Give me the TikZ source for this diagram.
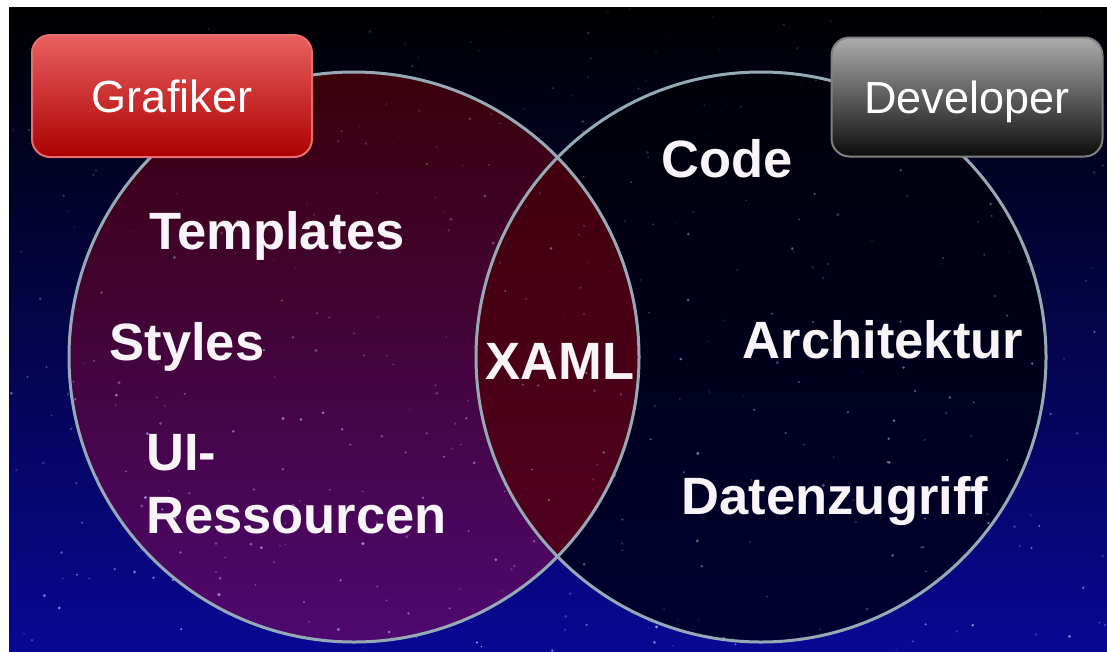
\documentclass[tikz,border=0pt]{standalone}
\usepackage{fontspec}
\setmainfont{Liberation Sans}
\usetikzlibrary{positioning}

\definecolor{bgmid}{RGB}{0,0,36}
\definecolor{bgbot}{RGB}{8,8,148}
\definecolor{ltop}{RGB}{58,0,10}
\definecolor{lbot}{RGB}{78,8,112}
\definecolor{rtop}{RGB}{0,0,8}
\definecolor{rbot}{RGB}{0,0,48}
\definecolor{xtop}{RGB}{62,0,10}
\definecolor{xbot}{RGB}{84,0,34}
\definecolor{ringcol}{RGB}{150,170,182}
\definecolor{starcol}{RGB}{180,190,255}
\definecolor{labelcol}{RGB}{248,244,248}

\begin{document}
\begin{tikzpicture}[x=1pt, y=-1pt,
	label/.style={text=labelcol, font=\bfseries\fontsize{52.5}{63}\selectfont, inner sep=0pt},
	ring/.style={draw=ringcol, line width=3pt}]
	\tikzstyle{role}=[rounded corners=18pt, minimum width=280pt, minimum height=122pt, text depth=0pt, text=white, line width=2pt, font=\fontsize{45}{50}\selectfont]
	\useasboundingbox (0,0) rectangle (1107,651);
	\fill[white] (0,0) rectangle (1107,651);
	% night sky
	\shade[top color=black, middle color=bgmid, bottom color=bgbot] (9,7) rectangle (1107,651);
	\coordinate (lc) at (354,357);
	\coordinate (rc) at (761,357);
	% circles
	\shade[top color=rtop, bottom color=rbot] (rc) circle (285pt);
	\shade[top color=ltop, bottom color=lbot] (lc) circle (285pt);
	\begin{scope}
		\clip (lc) circle (285pt);
		\shade[top color=xtop, bottom color=xbot] (rc) circle (285pt);
	\end{scope}
	% stars
	\pgfmathsetseed{7}
	\foreach \s in {1,...,420}{
		\pgfmathsetmacro\sx{9+1098*rnd}
		\pgfmathsetmacro\sy{7+644*rnd}
		\pgfmathsetmacro\sop{(0.15+0.75*rnd)*(0.2+0.8*\sy/651)}
		\pgfmathsetmacro\sr{0.8+0.9*rnd}
		\fill[starcol, opacity=\sop] (\sx,\sy) circle (\sr pt);
	}
	\draw[ring] (lc) circle (285pt);
	\draw[ring] (rc) circle (285pt);
	% roles
	\node[role, draw={rgb,255:red,230;green,110;blue,110}, top color={rgb,255:red,234;green,96;blue,96}, middle color={rgb,255:red,200;green,6;blue,6}, bottom color={rgb,255:red,172;green,0;blue,0}] (grafiker) at (172,96) {Grafiker};
	\node[role, minimum width=271pt, minimum height=119pt, draw={rgb,255:red,128;green,128;blue,128}, top color={rgb,255:red,172;green,172;blue,172}, middle color={rgb,255:red,30;green,30;blue,30}, bottom color={rgb,255:red,12;green,12;blue,12}] (developer) at (967,97) {Developer};
	% topics
	\node[label, anchor=base] (templates) at (277,249) {Templates};
	\node[label, anchor=base] (styles) at (187,360) {Styles};
	\node[label, anchor=north west, align=left] (ui) at (146,434) {UI-\\Ressourcen};
	\node[label, anchor=base] (xaml) at (560,379) {XAML};
	\node[label, anchor=base] (code) at (727,177) {Code};
	\node[label, anchor=base] (archi) at (883,358) {Architektur};
	\node[label, anchor=base] (daten) at (835,514) {Datenzugriff};
\end{tikzpicture}
\end{document}
